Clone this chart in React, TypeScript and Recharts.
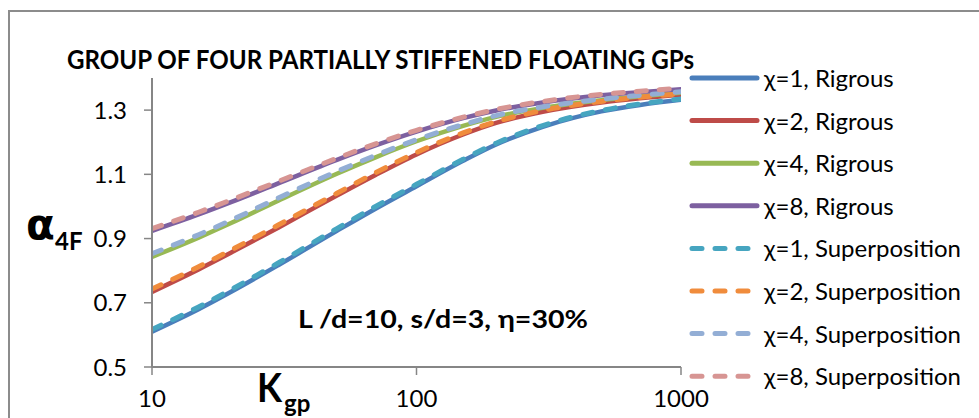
import { LineChart, Line, XAxis, YAxis } from "recharts";

// K_gp values (log axis)
const kgp = [10, 15, 20, 30, 50, 70, 100, 150, 200, 300, 500, 700, 1000];

// alpha_4F, rigorous solution
const rig1 = [0.61, 0.68, 0.735, 0.817, 0.924, 0.993, 1.063, 1.142, 1.193, 1.248, 1.296, 1.316, 1.332];
const rig2 = [0.734, 0.804, 0.857, 0.934, 1.034, 1.098, 1.162, 1.224, 1.26, 1.295, 1.324, 1.337, 1.348];
const rig4 = [0.843, 0.903, 0.949, 1.018, 1.102, 1.153, 1.203, 1.251, 1.279, 1.307, 1.331, 1.343, 1.354];
const rig8 = [0.924, 0.975, 1.014, 1.072, 1.145, 1.19, 1.233, 1.275, 1.299, 1.324, 1.346, 1.356, 1.365];

// alpha_4F, superposition
const sup1 = [0.617, 0.687, 0.742, 0.824, 0.931, 1.0, 1.069, 1.147, 1.197, 1.252, 1.299, 1.319, 1.335];
const sup2 = [0.743, 0.812, 0.865, 0.942, 1.041, 1.105, 1.168, 1.229, 1.264, 1.299, 1.327, 1.34, 1.351];
const sup4 = [0.853, 0.912, 0.958, 1.026, 1.109, 1.159, 1.208, 1.255, 1.283, 1.31, 1.334, 1.346, 1.357];
const sup8 = [0.931, 0.982, 1.021, 1.078, 1.15, 1.195, 1.237, 1.278, 1.302, 1.327, 1.349, 1.359, 1.368];

const xTicks = [10, 100, 1000];
const yTicks = [0.5, 0.7, 0.9, 1.1, 1.3];

const series = [
  { key: "r1", name: "χ=1, Rigrous", color: "#4A7EBB", dashed: false },
  { key: "r2", name: "χ=2, Rigrous", color: "#BE4B48", dashed: false },
  { key: "r4", name: "χ=4, Rigrous", color: "#98B954", dashed: false },
  { key: "r8", name: "χ=8, Rigrous", color: "#7D60A0", dashed: false },
  { key: "s1", name: "χ=1, Superposition", color: "#46A5C0", dashed: true },
  { key: "s2", name: "χ=2, Superposition", color: "#F08C3C", dashed: true },
  { key: "s4", name: "χ=4, Superposition", color: "#93AED5", dashed: true },
  { key: "s8", name: "χ=8, Superposition", color: "#D79593", dashed: true },
];

const data = kgp.map((k, i) => ({
  k,
  r1: rig1[i], r2: rig2[i], r4: rig4[i], r8: rig8[i],
  s1: sup1[i], s2: sup2[i], s4: sup4[i], s8: sup8[i],
}));

const FONT = "Lato, 'DejaVu Sans', sans-serif";
const DASH = "10 13";

function ChartLegend() {
  return (
    <g>
      {series.map((s, i) => {
        const y = 78 + i * 42.6;
        return (
          <g key={s.key}>
            <line
              x1={692} x2={757} y1={y} y2={y}
              stroke={s.color} strokeWidth={5} strokeLinecap="round"
              strokeDasharray={s.dashed ? DASH : undefined}
            />
            <text x={764} y={y + 9} fontSize={24} fontFamily={FONT} fill="#000">
              {s.name}
            </text>
          </g>
        );
      })}
    </g>
  );
}

export default function App() {
  return (
    <div style={{ position: "fixed", left: 0, top: 0, width: 979, height: 418, background: "#fff" }}>
      <div
        style={{
          position: "absolute", left: 8, top: 10, width: 971, height: 408,
          borderTop: "2px solid #8c8c8c", borderLeft: "2px solid #8c8c8c", boxSizing: "border-box",
        }}
      />
      <div style={{ position: "absolute", left: 0, top: 0 }}>
        <LineChart
          width={979}
          height={418}
          data={data}
          margin={{ top: 78, right: 298, bottom: 21, left: 92 }}
        >
          <XAxis
            dataKey="k" type="number" scale="log" domain={[10, 1000]} ticks={xTicks}
            allowDataOverflow height={30}
            axisLine={{ stroke: "#868686", strokeWidth: 2 }}
            tickLine={{ stroke: "#868686", strokeWidth: 1.5 }} tickSize={8} tickMargin={15}
            tick={{ fontSize: 24, fontFamily: FONT, fill: "#000" }}
          />
          <XAxis
            xAxisId="top" orientation="top" dataKey="k" type="number" scale="log"
            domain={[10, 1000]} height={0} tick={false} tickLine={false}
            axisLine={{ stroke: "#000", strokeWidth: 1.5 }}
          />
          <YAxis
            type="number" domain={[0.5, 1.4]} ticks={yTicks} width={60}
            allowDataOverflow
            tickFormatter={(v: number) => v.toFixed(1)}
            axisLine={{ stroke: "#868686", strokeWidth: 2 }}
            tickLine={{ stroke: "#868686", strokeWidth: 1.5 }} tickSize={8} tickMargin={17}
            tick={{ fontSize: 24, fontFamily: FONT, fill: "#000" }}
          />
          <YAxis
            yAxisId="right" orientation="right" domain={[0.5, 1.4]} width={0}
            tick={false} tickLine={false} axisLine={{ stroke: "#000", strokeWidth: 1.5 }}
          />
          {series.map((s) => (
            <Line
              key={s.key}
              type="monotone"
              dataKey={s.key}
              name={s.name}
              stroke={s.color}
              strokeWidth={s.dashed ? 5 : 4.5}
              strokeDasharray={s.dashed ? DASH : undefined}
              strokeLinecap="round"
              dot={false}
              activeDot={false}
              isAnimationActive={false}
            />
          ))}
          <text x={67} y={69} fontSize={26} fontWeight="bold" fontFamily={FONT} textLength={627} lengthAdjust="spacingAndGlyphs">
            GROUP OF FOUR PARTIALLY STIFFENED FLOATING GPs
          </text>
          <text x={298} y={328} fontSize={25} fontWeight="bold" fontFamily={FONT} textLength={290} lengthAdjust="spacingAndGlyphs">
            L /d=10, s/d=3, η=30%
          </text>
          <text x={26} y={239} fontSize={42} fontWeight="bold" fontFamily="'DejaVu Sans', sans-serif">α</text>
          <text x={55} y={250} fontSize={24} fontWeight="bold" fontFamily={FONT}>4F</text>
          <text x={257} y={402} fontSize={41} fontWeight="bold" fontFamily={FONT} textLength={25} lengthAdjust="spacingAndGlyphs">K</text>
          <text x={284} y={412} fontSize={24} fontWeight="bold" fontFamily={FONT}>gp</text>
          <ChartLegend />
        </LineChart>
      </div>
    </div>
  );
}
